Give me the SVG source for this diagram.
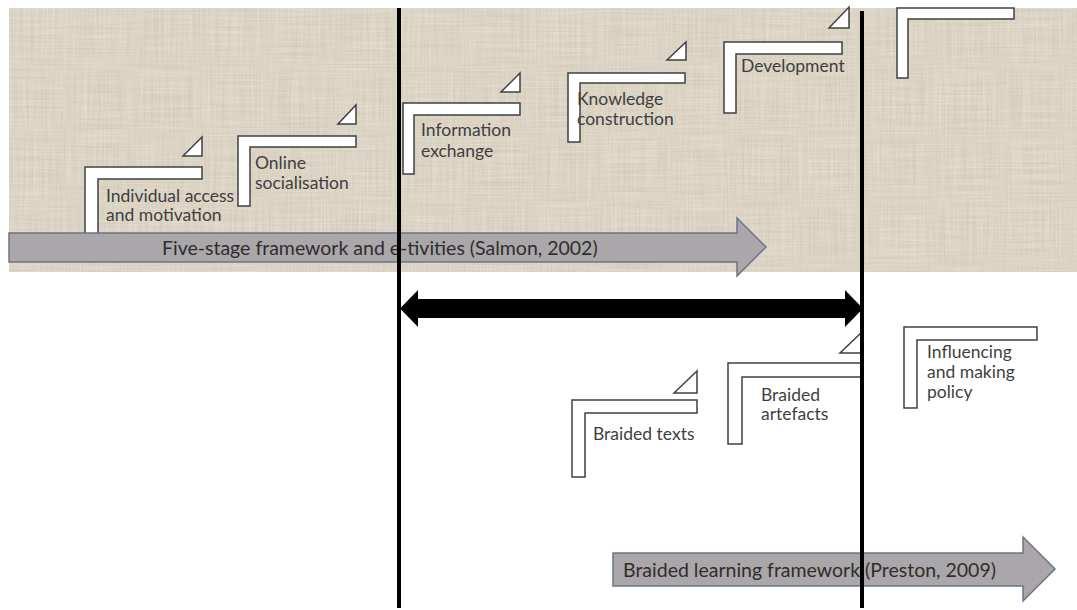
<svg xmlns="http://www.w3.org/2000/svg" width="1077" height="610" viewBox="0 0 1077 610">
  <style>
    .step { fill: #ffffff; stroke: #404040; stroke-width: 1.5; stroke-linejoin: miter; }
    .lbl { font-family: Lato, "Liberation Sans", sans-serif; font-size: 17.5px; fill: #3f3f3f; }
    .band { fill: #aaa6a9; stroke: #6c7489; stroke-width: 1.5; }
    .band-lbl { font-family: Lato, "Liberation Sans", sans-serif; font-size: 19.5px; fill: #2e2e2e; }
    .divider { stroke: #000000; stroke-width: 4; }
  </style>
  <defs>
    <!-- linen weave for the upper panel: crossed streak noise mapped to beige -->
    <filter id="linen" x="0" y="0" width="100%" height="100%" color-interpolation-filters="sRGB">
      <feTurbulence type="fractalNoise" baseFrequency="0.015 0.7" numOctaves="2" seed="3" result="weft"/>
      <feTurbulence type="fractalNoise" baseFrequency="0.7 0.015" numOctaves="2" seed="11" result="warp"/>
      <feComposite in="weft" in2="warp" operator="arithmetic" k2="0.5" k3="0.5" result="mix"/>
      <feColorMatrix in="mix" type="matrix"
        values="0.15 0 0 0 0.785
                0.15 0 0 0 0.755
                0.15 0 0 0 0.695
                0 0 0 0 1"/>
    </filter>
  </defs>

  <rect width="1077" height="610" fill="#ffffff"/>
  <rect x="9" y="8" width="1068" height="264" fill="#dcd4c5" filter="url(#linen)"/>

  <!-- Salmon five-stage steps -->
  <g id="stage1">
    <path class="step" d="M85,240 L85,167 L202,167 L202,179 L98,179 L98,240 Z"/>
    <path class="step" d="M183,156 L202,156 L202,137 Z"/>
    <text class="lbl" x="106" y="202">Individual access</text>
    <text class="lbl" x="106" y="221">and motivation</text>
  </g>
  <g id="stage2">
    <path class="step" d="M238,206 L238,136 L356,136 L356,147 L250,147 L250,206 Z"/>
    <path class="step" d="M338,124 L356,124 L356,105 Z"/>
    <text class="lbl" x="255" y="169">Online</text>
    <text class="lbl" x="255" y="189">socialisation</text>
  </g>
  <g id="stage3">
    <path class="step" d="M403,174 L403,103 L520,103 L520,115 L414,115 L414,174 Z"/>
    <path class="step" d="M501,92 L520,92 L520,73 Z"/>
    <text class="lbl" x="421" y="136">Information</text>
    <text class="lbl" x="421" y="157">exchange</text>
  </g>
  <g id="stage4">
    <path class="step" d="M568,142 L568,73 L685,73 L685,83 L580,83 L580,142 Z"/>
    <path class="step" d="M667,60 L686,60 L686,42 Z"/>
    <text class="lbl" x="577" y="105">Knowledge</text>
    <text class="lbl" x="577" y="125">construction</text>
  </g>
  <g id="stage5">
    <path class="step" d="M724,113 L724,42 L842,42 L842,54 L736,54 L736,113 Z"/>
    <path class="step" d="M829,28 L849,28 L849,7 Z"/>
    <text class="lbl" x="741" y="72">Development</text>
  </g>
  <g id="stage6">
    <path class="step" d="M897,78 L897,8 L1014,8 L1014,19 L908,19 L908,78 Z"/>
  </g>

  <!-- Preston braided steps -->
  <g id="braided-texts">
    <path class="step" d="M572,477 L572,400 L697,400 L697,413 L585,413 L585,477 Z"/>
    <path class="step" d="M674,393 L697,393 L697,371 Z"/>
    <text class="lbl" x="593" y="440">Braided texts</text>
  </g>
  <g id="braided-artefacts">
    <path class="step" d="M728,444 L728,363 L862,363 L862,377 L742,377 L742,444 Z"/>
    <path class="step" d="M840,353 L862,353 L862,332 Z"/>
    <text class="lbl" x="761" y="401">Braided</text>
    <text class="lbl" x="761" y="420">artefacts</text>
  </g>
  <g id="influencing-policy">
    <path class="step" d="M904,408 L904,327 L1037,327 L1037,340 L917,340 L917,408 Z"/>
    <text class="lbl" x="927" y="358">Influencing</text>
    <text class="lbl" x="927" y="378">and making</text>
    <text class="lbl" x="927" y="398">policy</text>
  </g>

  <!-- framework arrows -->
  <g id="salmon-framework">
    <path class="band" d="M9,233 L737,233 L737,218 L766,247 L737,276 L737,262 L9,262 Z"/>
    <text class="band-lbl" x="162" y="255">Five-stage framework and e-tivities (Salmon, 2002)</text>
  </g>
  <g id="preston-framework">
    <path class="band" d="M613,553 L1023,553 L1023,537 L1055,569 L1023,601 L1023,586 L613,586 Z"/>
    <text class="band-lbl" x="623" y="577">Braided learning framework (Preston, 2009)</text>
  </g>

  <!-- connectors: overlap span and dividers -->
  <g id="connectors">
    <path d="M400,308.5 L418,290 L418,299 L845,299 L845,290 L863,308.5 L845,327 L845,318 L418,318 L418,327 Z" fill="#000000"/>
    <line class="divider" x1="399" y1="8" x2="399" y2="608"/>
    <line class="divider" x1="862" y1="11" x2="862" y2="608"/>
  </g>
</svg>
